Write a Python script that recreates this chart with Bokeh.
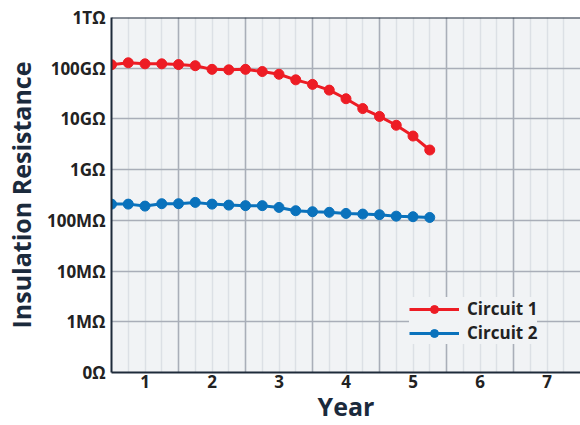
import numpy as np
from bokeh.plotting import figure
from bokeh.models import FixedTicker, CustomJSTickFormatter, Span, Legend, LegendItem
from bokeh.embed import file_html
from bokeh.resources import INLINE

# ---- data ----
years = [0.5, 0.75, 1.0, 1.25, 1.5, 1.75, 2.0, 2.25, 2.5, 2.75,
         3.0, 3.25, 3.5, 3.75, 4.0, 4.25, 4.5, 4.75, 5.0, 5.25]
circuit1 = [117e9, 128e9, 122e9, 122e9, 118e9, 112e9, 95e9, 93e9, 95e9, 86e9,
            76e9, 59e9, 48e9, 37e9, 25e9, 16e9, 11.2e9, 7.5e9, 4.6e9, 2.44e9]
circuit2 = [209e6, 209e6, 191e6, 213e6, 213e6, 226e6, 209e6, 200e6, 195e6, 195e6,
            180e6, 155e6, 148e6, 144e6, 137e6, 133e6, 129e6, 121e6, 118e6, 114e6]
series_names = ["Circuit 1", "Circuit 2"]
x_ticks = [1, 2, 3, 4, 5, 6, 7]
y_tick_values = [1e5, 1e6, 1e7, 1e8, 1e9, 1e10, 1e11, 1e12]
y_tick_labels = ["0\u03a9", "1M\u03a9", "10M\u03a9", "100M\u03a9", "1G\u03a9", "10G\u03a9", "100G\u03a9", "1T\u03a9"]
x_title = "Year"
y_title = "Insulation Resistance"

RED = "#ED1C24"
BLUE = "#0A72BC"
AXIS = "#1E2B3A"
BG = "#F1F3F5"
MAJOR = "#A9AEB8"
MINOR = "#DCE0E5"
FONT = "Open Sans"

p = figure(width=580, height=425, output_backend="svg", toolbar_location=None,
           y_axis_type="log", x_range=(0.5, 7.5), y_range=(1e5, 1e12),
           min_border_top=17, min_border_left=102, min_border_right=0, min_border_bottom=0)
p.background_fill_color = BG
p.border_fill_color = "white"
p.outline_line_color = None

# grids
p.xgrid.ticker = FixedTicker(ticks=[1.5, 2.5, 3.5, 4.5, 5.5, 6.5],
                             minor_ticks=list(np.arange(0.75, 7.5, 0.25)))
p.xgrid.grid_line_color = MAJOR
p.xgrid.grid_line_width = 1.5
p.xgrid.minor_grid_line_color = MINOR
p.xgrid.minor_grid_line_width = 1.5
p.ygrid.grid_line_color = MAJOR
p.ygrid.grid_line_width = 1.5

# axes
p.xaxis.ticker = FixedTicker(ticks=x_ticks)
p.yaxis.ticker = FixedTicker(ticks=y_tick_values)
p.yaxis.formatter = CustomJSTickFormatter(
    args=dict(vals=y_tick_values, labs=y_tick_labels),
    code="""
    let best = 0, bd = 1e9;
    for (let i = 0; i < vals.length; i++) {
        const d = Math.abs(Math.log10(vals[i]) - Math.log10(tick));
        if (d < bd) { bd = d; best = i; }
    }
    return labs[best];
    """)
for ax in (p.xaxis, p.yaxis):
    ax.axis_line_color = AXIS
    ax.axis_line_width = 2
    ax.major_tick_line_color = None
    ax.minor_tick_line_color = None
    ax.major_tick_out = 0
    ax.major_tick_in = 0
    ax.minor_tick_out = 0
    ax.minor_tick_in = 0
    ax.major_label_text_font = FONT
    ax.major_label_text_font_style = "bold"
    ax.major_label_text_font_size = "17px"
    ax.major_label_text_color = "#222222"
    ax.axis_label_text_font = FONT
    ax.axis_label_text_font_style = "bold"
    ax.axis_label_text_font_size = "25px"
    ax.axis_label_text_color = "#1B2A3C"
p.xaxis.axis_label = x_title
p.yaxis.axis_label = y_title
p.xaxis.major_label_standoff = 2
p.xaxis.axis_label_standoff = -2
p.yaxis.major_label_standoff = 6
p.yaxis.axis_label_standoff = 6

p.add_layout(Span(location=1e12, dimension="width", line_color=AXIS, line_width=2))

# series
l1 = p.line(years, circuit1, line_color=RED, line_width=3)
s1 = p.scatter(years, circuit1, size=10, fill_color=RED, line_color=RED)
l2 = p.line(years, circuit2, line_color=BLUE, line_width=3)
s2 = p.scatter(years, circuit2, size=10, fill_color=BLUE, line_color=BLUE)

legend = Legend(items=[LegendItem(label=series_names[0], renderers=[l1, s1]),
                       LegendItem(label=series_names[1], renderers=[l2, s2])],
                location=(298, 28))
legend.background_fill_color = BG
legend.background_fill_alpha = 1
legend.border_line_color = None
legend.label_text_font = FONT
legend.label_text_font_style = "bold"
legend.label_text_font_size = "17px"
legend.label_text_color = "#222222"
legend.glyph_width = 50
legend.glyph_height = 20
legend.label_height = 20
legend.label_standoff = 8
legend.spacing = 1
legend.padding = 8
legend.margin = 0
p.add_layout(legend, "center")

open("out.html", "w").write(file_html(p, INLINE))
